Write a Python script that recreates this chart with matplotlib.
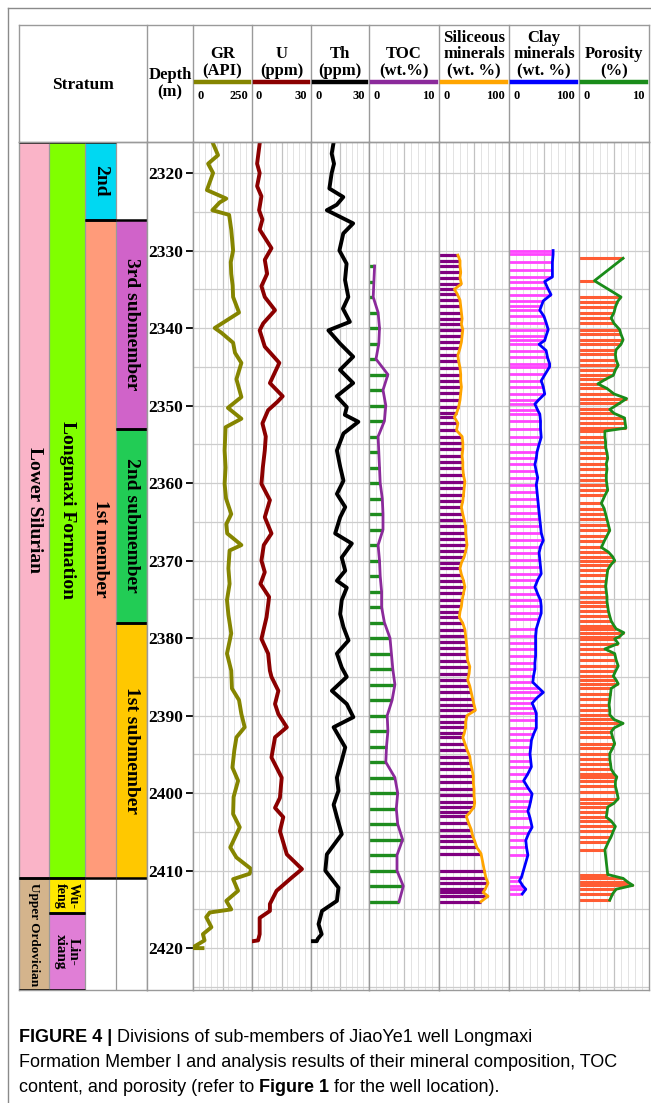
import matplotlib.pyplot as plt
from matplotlib.patches import Rectangle
from matplotlib.lines import Line2D
from matplotlib.text import Annotation
import numpy as np

W, H = 651, 1103

def fx(px):
    return px / W

def fy(py):
    return 1 - py / H

serif = ['Liberation Serif', 'DejaVu Serif']
sans = ['Liberation Sans', 'DejaVu Sans']

# depth window
top_depth, base_depth = 2316.0, 2425.4
depth_ticks = list(range(2320, 2421, 10))

# stratum units
unit_names = ['Lower Silurian', 'Longmaxi Formation', '2nd', '1st member',
              '3rd submember', '2nd submember', '1st submember',
              'Upper Ordovician', 'Wu-\nfeng', 'Lin-\nxiang']
unit_col = [0, 1, 2, 2, 3, 3, 3, 0, 1, 1]
unit_top = [2316, 2316, 2316, 2326, 2326, 2353, 2378, 2411, 2411, 2415.5]
unit_base = [2411, 2411, 2326, 2411, 2353, 2378, 2411, 2425.4, 2415.5, 2425.4]
unit_colors = ['#FAB4C8', '#80FF00', '#00D8F2', '#FF9B7A', '#D063C9',
               '#22CC55', '#FFC800', '#D4B48C', '#FFE800', '#E07ED6']
unit_fsize = [14, 14, 14, 14, 14, 14, 14, 9.5, 10, 11]

# GR (API)
gr_depth = [2316.2, 2317.7, 2318.8, 2320.0, 2322.2, 2323.3, 2323.8, 2324.8, 2325.4, 2327.3,
            2330.0, 2331.5, 2333.0, 2334.5, 2336.0, 2338.0, 2340.0, 2340.6, 2341.9, 2343.2,
            2344.5, 2346.6, 2348.9, 2350.3, 2351.7, 2352.8, 2354.3, 2355.8, 2358.0, 2360.1,
            2362.0, 2364.0, 2365.3, 2366.5, 2368.0, 2368.7, 2371.0, 2373.0, 2375.1, 2377.0,
            2379.4, 2382.0, 2384.2, 2386.5, 2388.0, 2389.8, 2391.5, 2392.8, 2394.5, 2396.7,
            2398.4, 2400.5, 2402.7, 2404.4, 2407.0, 2408.3, 2409.8, 2410.4, 2411.1, 2412.6,
            2413.9, 2415.0, 2415.4, 2416.0, 2417.3, 2418.2, 2419.0, 2419.8, 2420.0, 2420.0]
gr_val = [85, 106, 64, 85, 59, 141, 113, 82, 153, 162,
          170, 160, 162, 168, 170, 195, 92, 120, 170, 178,
          205, 184, 205, 148, 205, 138, 136, 134, 138, 134,
          140, 162, 141, 145, 205, 155, 150, 155, 144, 150,
          162, 144, 162, 165, 195, 205, 219, 184, 175, 167,
          191, 172, 170, 198, 158, 184, 247, 240, 170, 191,
          141, 162, 71, 56, 78, 42, 49, 5, 2, 40]

# U (ppm)
u_depth = [2316.2, 2318.8, 2320.0, 2321.7, 2323.0, 2324.8, 2326.0, 2327.3, 2329.7, 2331.2,
           2333.0, 2334.6, 2336.0, 2337.7, 2339.4, 2340.3, 2342.4, 2344.5, 2347.1, 2348.8,
           2349.5, 2350.6, 2352.3, 2354.0, 2355.8, 2358.0, 2360.1, 2362.2, 2364.4, 2366.5,
           2368.0, 2370.0, 2371.5, 2373.0, 2374.7, 2377.3, 2380.1, 2382.0, 2384.2, 2385.0,
           2386.8, 2388.5, 2389.8, 2391.5, 2392.8, 2395.4, 2398.0, 2400.6, 2401.9, 2403.1,
           2404.9, 2407.9, 2409.8, 2410.9, 2412.6, 2414.3, 2415.2, 2416.1, 2418.2, 2419.0,
           2419.1]
u_val = [3.9, 2.6, 3.9, 2.6, 4.8, 3.6, 5.3, 3.9, 9.9, 6.5,
         7.7, 4.8, 6.5, 11.7, 5.7, 3.9, 6.5, 13.9, 9.1, 15.6,
         13.0, 8.2, 5.3, 7.0, 6.5, 5.5, 4.8, 9.1, 6.5, 9.9,
         6.0, 4.8, 6.5, 4.3, 8.7, 7.4, 4.8, 8.2, 9.1, 9.9,
         13.4, 11.7, 13.4, 17.7, 11.7, 9.9, 15.1, 14.2, 11.7, 15.9,
         14.2, 17.7, 25.4, 20.2, 12.5, 9.1, 9.1, 3.9, 3.9, 3.1,
         0.5]

# Th (ppm)
th_depth = [2316.2, 2317.5, 2318.8, 2320.0, 2322.0, 2323.1, 2324.1, 2324.8, 2326.5, 2327.8,
            2330.0, 2331.7, 2333.8, 2336.0, 2337.5, 2339.2, 2340.3, 2342.0, 2343.7, 2345.4,
            2347.1, 2348.8, 2350.2, 2351.2, 2352.1, 2353.6, 2355.8, 2357.9, 2359.7, 2361.4,
            2363.1, 2364.4, 2366.5, 2367.8, 2369.6, 2371.3, 2372.6, 2373.5, 2375.1, 2376.9,
            2378.6, 2380.3, 2382.0, 2383.8, 2385.0, 2386.8, 2388.5, 2390.2, 2391.5, 2394.1,
            2395.8, 2398.0, 2399.7, 2401.5, 2403.1, 2405.3, 2407.9, 2410.0, 2412.2, 2413.9,
            2415.2, 2416.9, 2418.2, 2418.8, 2419.1, 2419.1]
th_val = [11.6, 10.7, 11.9, 10.7, 9.5, 16.7, 13.3, 8.2, 21.8, 16.7,
          14.7, 18.4, 17.6, 19.3, 16.5, 20.1, 9.0, 15.0, 21.8, 15.0,
          21.8, 13.3, 18.5, 17.5, 24.5, 16.8, 13.4, 15.1, 16.8, 13.4,
          17.7, 15.1, 12.5, 21.1, 15.9, 17.7, 13.4, 18.5, 15.9, 15.1,
          16.8, 19.4, 13.4, 15.9, 18.5, 10.8, 18.5, 21.9, 11.7, 17.7,
          15.9, 13.4, 14.2, 11.7, 13.4, 15.9, 8.2, 7.4, 14.2, 13.4,
          5.7, 3.9, 5.5, 3.5, 3.0, 0.3]

# TOC (wt.%) sampled every 2 m
toc_depth = list(range(2332, 2415, 2))
toc_val = [0.8, 0.7, 0.6, 1.3, 1.5, 1.4, 1.0, 2.7, 2.0, 2.4,
           2.2, 1.3, 1.4, 1.5, 1.6, 1.9, 2.0, 2.0, 1.3, 1.5,
           1.6, 1.8, 1.8, 2.2, 3.0, 3.2, 3.4, 3.7, 3.3, 2.6,
           2.7, 2.5, 2.4, 3.7, 4.1, 3.9, 4.1, 4.8, 4.0, 4.0,
           4.9, 4.3]

# siliceous minerals (wt. %)
sil_depth = [2330.6, 2331.3, 2332.0, 2332.8, 2333.5, 2334.3, 2335.0, 2335.6, 2336.4, 2337.2,
             2338.0, 2338.8, 2339.5, 2340.2, 2341.0, 2341.8, 2342.6, 2343.5, 2344.3, 2345.1,
             2346.0, 2346.8, 2347.6, 2348.4, 2349.3, 2350.2, 2351.0, 2351.5, 2352.3, 2353.2,
             2354.0, 2354.8, 2355.6, 2356.5, 2357.3, 2358.1, 2359.0, 2359.8, 2360.6, 2361.5,
             2362.3, 2363.1, 2364.0, 2364.8, 2365.6, 2366.4, 2367.2, 2368.0, 2368.8, 2369.5,
             2370.3, 2371.0, 2371.8, 2372.6, 2373.4, 2374.2, 2375.1, 2375.9, 2376.6, 2377.3,
             2378.1, 2378.9, 2379.7, 2380.5, 2381.3, 2382.1, 2382.9, 2383.7, 2384.6, 2385.4,
             2386.2, 2387.0, 2387.8, 2388.6, 2389.3, 2390.0, 2390.8, 2391.5, 2392.3, 2392.8,
             2393.6, 2394.4, 2395.3, 2396.1, 2396.9, 2397.8, 2398.6, 2399.5, 2400.3, 2401.2,
             2401.8, 2402.5, 2403.0, 2403.8, 2404.7, 2405.5, 2406.2, 2407.0, 2407.8, 2410.1,
             2410.9, 2411.6, 2412.4, 2412.8, 2413.3, 2414.0]
sil_val = [27, 30, 30, 31, 30, 32, 22, 26, 30, 31,
           32, 33, 32, 34, 33, 32, 30, 27, 28, 30,
           31, 31, 32, 31, 30, 28, 25, 22, 27, 25,
           33, 34, 34, 33, 34, 34, 35, 37, 36, 35,
           34, 32, 34, 36, 38, 38, 39, 40, 38, 36,
           32, 30, 32, 35, 37, 35, 33, 32, 30, 29,
           34, 37, 38, 39, 40, 40, 41, 44, 43, 41,
           44, 46, 48, 50, 52, 40, 38, 38, 36, 34,
           37, 40, 44, 45, 47, 49, 49, 50, 50, 51,
           50, 44, 39, 42, 46, 48, 51, 54, 60, 65,
           67, 70, 66, 63, 70, 60]

# clay minerals (wt. %)
clay_depth = [2330.0, 2330.5, 2331.5, 2332.5, 2333.4, 2334.0, 2334.8, 2335.7, 2336.5, 2337.2,
              2337.7, 2338.5, 2339.3, 2340.2, 2341.0, 2341.6, 2342.1, 2342.9, 2343.8, 2344.6,
              2345.0, 2345.9, 2346.8, 2347.6, 2348.5, 2349.3, 2349.8, 2350.6, 2351.1, 2352.0,
              2353.0, 2354.1, 2355.0, 2356.0, 2356.8, 2357.6, 2358.5, 2359.3, 2360.2, 2361.1,
              2362.0, 2362.9, 2363.8, 2364.7, 2365.5, 2366.4, 2367.4, 2368.2, 2369.0, 2369.9,
              2370.8, 2371.7, 2372.5, 2373.4, 2374.3, 2375.1, 2375.9, 2376.8, 2377.6, 2378.8,
              2379.7, 2380.6, 2381.4, 2382.3, 2383.2, 2384.0, 2384.9, 2385.7, 2386.4, 2387.0,
              2387.7, 2388.4, 2389.0, 2389.7, 2390.6, 2391.6, 2392.4, 2393.2, 2394.1, 2394.9,
              2395.8, 2396.6, 2397.5, 2398.4, 2399.3, 2400.1, 2401.0, 2401.8, 2402.3, 2403.2,
              2404.4, 2405.2, 2406.1, 2407.0, 2408.0, 2410.8, 2411.3, 2412.0, 2412.4, 2413.0]
clay_val = [63, 63, 62, 62, 62, 51, 55, 60, 49, 46,
            44, 50, 53, 56, 53, 51, 43, 53, 55, 58,
            58, 52, 46, 49, 51, 42, 37, 41, 44, 45,
            45, 46, 43, 40, 39, 37, 39, 41, 39, 40,
            41, 42, 43, 44, 45, 46, 49, 45, 43, 44,
            45, 46, 41, 37, 41, 45, 46, 46, 43, 39,
            38, 38, 38, 38, 37, 37, 35, 34, 42, 49,
            40, 33, 36, 39, 39, 39, 35, 32, 31, 30,
            31, 32, 27, 21, 27, 33, 31, 29, 27, 30,
            33, 28, 24, 25, 27, 18, 15, 20, 24, 19]

# porosity (%)
por_depth = [2331.0, 2333.9, 2336.0, 2336.6, 2337.3, 2338.0, 2338.7, 2339.4, 2340.2, 2340.8,
             2341.5, 2342.1, 2342.8, 2343.4, 2344.1, 2344.8, 2345.4, 2346.1, 2346.6, 2347.2,
             2347.8, 2348.5, 2349.1, 2349.7, 2350.5, 2351.0, 2351.6, 2352.3, 2352.9, 2353.3,
             2354.0, 2354.7, 2355.4, 2356.1, 2356.8, 2357.5, 2358.2, 2358.9, 2359.6, 2360.3,
             2360.9, 2361.6, 2362.6, 2363.3, 2364.0, 2364.7, 2365.4, 2366.1, 2366.8, 2367.5,
             2368.3, 2368.9, 2369.5, 2370.0, 2370.6, 2371.2, 2371.9, 2372.6, 2373.3, 2374.0,
             2374.7, 2375.3, 2375.9, 2376.5, 2377.2, 2377.8, 2378.4, 2378.8, 2379.3, 2379.8,
             2380.1, 2380.7, 2381.4, 2382.0, 2382.8, 2383.6, 2384.3, 2384.9, 2385.4, 2385.9,
             2386.5, 2387.2, 2387.9, 2388.6, 2389.3, 2389.9, 2390.5, 2391.0, 2391.6, 2392.1,
             2392.8, 2393.6, 2394.2, 2394.9, 2395.6, 2396.2, 2396.9, 2397.5, 2397.9, 2398.5,
             2399.1, 2399.8, 2400.7, 2401.3, 2401.8, 2402.5, 2403.1, 2403.6, 2404.3, 2404.9,
             2405.6, 2406.3, 2407.3, 2410.5, 2411.0, 2411.5, 2411.9, 2412.4, 2413.0, 2413.8]
por_val = [6.3, 2.2, 6.0, 5.5, 5.2, 5.0, 4.6, 5.0, 5.8, 6.0,
           6.3, 6.0, 5.3, 5.2, 5.3, 5.6, 5.2, 4.9, 3.8, 2.7,
           4.0, 5.0, 6.8, 5.8, 4.4, 5.0, 6.5, 6.6, 6.7, 3.7,
           3.7, 3.8, 3.8, 4.0, 4.1, 3.9, 4.0, 3.9, 3.9, 4.0,
           4.1, 3.7, 3.2, 3.6, 3.8, 4.0, 4.2, 4.4, 4.0, 3.6,
           3.2, 4.2, 4.8, 5.1, 4.5, 4.1, 4.0, 3.9, 3.8, 3.9,
           4.0, 4.0, 4.1, 4.2, 4.4, 4.6, 5.0, 5.3, 6.4, 5.8,
           5.1, 5.6, 3.7, 5.1, 5.3, 5.6, 5.2, 4.9, 5.3, 5.6,
           4.6, 4.5, 4.4, 4.3, 4.4, 4.4, 5.0, 6.3, 5.0, 4.6,
           4.8, 5.1, 4.8, 4.4, 4.4, 4.5, 4.6, 5.0, 5.4, 5.2,
           5.2, 5.4, 5.6, 5.0, 4.1, 4.0, 3.9, 4.6, 5.2, 4.9,
           4.6, 4.2, 3.7, 4.1, 6.3, 7.0, 7.7, 5.3, 4.8, 4.4]

track_names = ['GR\n(API)', 'U\n(ppm)', 'Th\n(ppm)', 'TOC\n(wt.%)',
               'Siliceous\nminerals\n(wt. %)', 'Clay\nminerals\n(wt. %)', 'Porosity\n(%)']
track_max = [250, 30, 30, 10, 100, 100, 10]
line_colors = ['#858500', '#8B0000', '#000000', '#8B2A9B', '#FFA500', '#0000FF', '#1A8C1A']

# layout in pixels
edges = [19, 147, 193, 252, 311, 369, 439, 509, 579, 649]
strat_edges = [19, 49, 85, 116, 147]
head_top, head_bot, log_bot = 25, 142, 990
frame_c = '#9a9a9a'

fig = plt.figure(figsize=(W / 100, H / 100), dpi=100)

# outer frame
fig.add_artist(Line2D([fx(8), fx(8)], [fy(8), 0], color='#8a8a8a', lw=1))
fig.add_artist(Line2D([fx(8), 1], [fy(8), fy(8)], color='#8a8a8a', lw=1))

# header box
fig.add_artist(Line2D([fx(19), fx(649)], [fy(head_top)] * 2, color=frame_c, lw=1))
fig.add_artist(Line2D([fx(19), fx(649)], [fy(head_bot)] * 2, color=frame_c, lw=1))
for e in edges:
    fig.add_artist(Line2D([fx(e), fx(e)], [fy(head_top), fy(head_bot)], color=frame_c, lw=1))

fig.text(fx(83), fy(85), 'Stratum', ha='center', va='center', fontsize=12.5,
         weight='bold', family=serif)
fig.text(fx(170), fy(84), 'Depth\n(m)', ha='center', va='center', fontsize=12,
         weight='bold', family=serif, linespacing=1.1)


def make_ax(x0, x1):
    ax = fig.add_axes([fx(x0), fy(log_bot), fx(x1) - fx(x0), fy(head_bot) - fy(log_bot)])
    ax.set_ylim(base_depth, top_depth)
    for s in ax.spines.values():
        s.set_color(frame_c)
        s.set_linewidth(1)
    ax.set_xticks([])
    ax.set_yticks([])
    return ax


# stratum column
sax = make_ax(strat_edges[0], strat_edges[-1])
sax.set_xlim(strat_edges[0], strat_edges[-1])
for name, col, t, b, c, fs in zip(unit_names, unit_col, unit_top, unit_base, unit_colors, unit_fsize):
    x0, x1 = strat_edges[col], strat_edges[col + 1]
    sax.add_patch(Rectangle((x0, t), x1 - x0, b - t, facecolor=c, edgecolor='none'))
    sax.hlines([t, b], x0, x1, color='black', lw=1.8, zorder=3)
    sax.text((x0 + x1) / 2, (t + b) / 2, name, rotation=270, ha='center', va='center',
             fontsize=fs, weight='bold', family=serif, linespacing=1.0, zorder=4)
for e in strat_edges[1:-1]:
    sax.axvline(e, color=frame_c, lw=0.9, zorder=2)

# depth column
dax = make_ax(edges[1], edges[2])

# log tracks
series = [(gr_depth, gr_val), (u_depth, u_val), (th_depth, th_val)]
bars = [(toc_depth, toc_val, '#1E8C1E', 2.4), (sil_depth, sil_val, '#800080', 2.3),
        (clay_depth, clay_val, '#FF44FF', 2.0), (por_depth, por_val, '#FF5C33', 2.2)]
grid_depths = np.arange(2320, 2426, 5)

for i in range(7):
    x0, x1 = edges[i + 2], edges[i + 3]
    ax = make_ax(x0, x1)
    vmax = track_max[i]
    ax.set_xlim(0, vmax)
    for k in range(1, 10):
        ax.axvline(vmax * k / 10, color='#c2c2c2' if k == 5 else '#e3e3e3',
                   lw=0.9 if k == 5 else 0.7, zorder=0)
    for d in grid_depths:
        ax.axhline(d, color='#cdcdcd', lw=0.9, zorder=0)

    if i < 3:
        dep, val = series[i]
        ax.plot(val, dep, color=line_colors[i], lw=2.8, solid_joinstyle='round', zorder=3)
    else:
        dep, val, bc, blw = bars[i - 3]
        ax.hlines(dep, 0, val, colors=bc, lw=blw, zorder=2)
        ax.plot(val, dep, color=line_colors[i], lw=2.0, zorder=3)

    if i == 0:
        ax.set_yticks(depth_ticks)
        ax.set_yticklabels([str(d) for d in depth_ticks], fontsize=12.5,
                           weight='bold', family=serif)
        ax.tick_params(axis='y', direction='out', length=5, width=1.3,
                       color='black', pad=2)

    # header for the track
    xc = (x0 + x1) / 2
    fig.text(fx(xc), fy(79), track_names[i], ha='center', va='bottom', fontsize=12,
             weight='bold', family=serif, linespacing=1.05)
    fig.add_artist(Line2D([fx(x0 + 3), fx(x1 - 3)], [fy(82)] * 2,
                          color=line_colors[i], lw=3.2))
    fig.text(fx(x0 + 4), fy(96), '0', ha='left', va='center', fontsize=9,
             weight='bold', family=serif)
    fig.text(fx(x1 - 4), fy(96), str(vmax), ha='right', va='center', fontsize=9,
             weight='bold', family=serif)

# caption
cap = dict(fontsize=13, family=sans, va='baseline')
t1 = fig.text(fx(19), fy(1042), 'FIGURE 4 |', weight='bold', **cap)
fig.add_artist(Annotation(' Divisions of sub-members of JiaoYe1 well Longmaxi',
                          xy=(1, 0), xycoords=t1, va='bottom', fontsize=13, family=sans))
fig.text(fx(19), fy(1067), 'Formation Member I and analysis results of their mineral composition, TOC', **cap)
t3 = fig.text(fx(19), fy(1092), 'content, and porosity (refer to', **cap)
t4 = fig.add_artist(Annotation(' Figure 1', xy=(1, 0), xycoords=t3, va='bottom',
                               fontsize=13, family=sans, weight='bold'))
fig.add_artist(Annotation(' for the well location).', xy=(1, 0), xycoords=t4, va='bottom',
                          fontsize=13, family=sans))

fig.savefig('out.png', dpi=100)
